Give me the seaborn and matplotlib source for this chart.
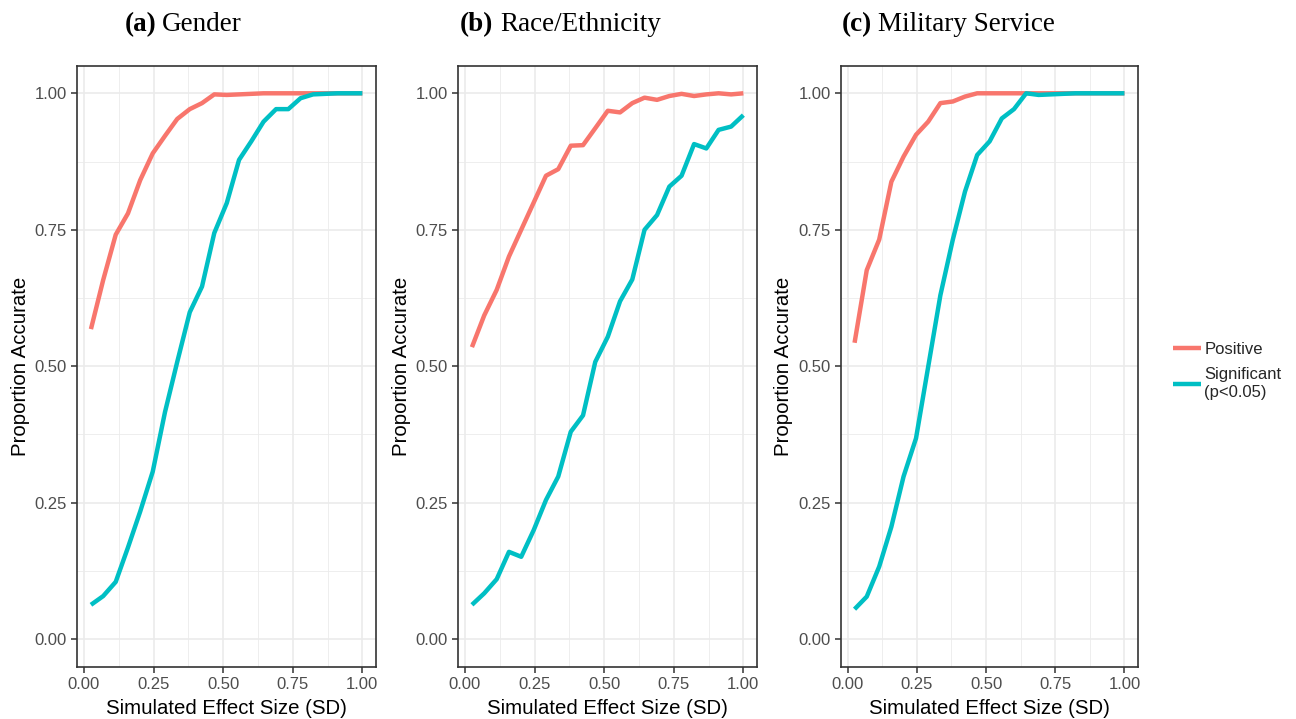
import seaborn as sns
import matplotlib.pyplot as plt
import pandas as pd
from matplotlib.ticker import MultipleLocator

# effect sizes (SD) at which the simulations were run
effect_size = [0.025, 0.069, 0.114, 0.158, 0.202, 0.247, 0.291, 0.335, 0.380, 0.424, 0.468, 0.513,
               0.557, 0.601, 0.645, 0.690, 0.734, 0.778, 0.823, 0.867, 0.911, 0.956, 1.000]

gender_pos = [0.568, 0.658, 0.741, 0.780, 0.841, 0.890, 0.922, 0.953, 0.971, 0.982, 0.998, 0.997,
              0.998, 0.999, 1.0, 1.0, 1.0, 1.0, 1.0, 1.0, 1.0, 1.0, 1.0]
gender_sig = [0.063, 0.079, 0.105, 0.168, 0.234, 0.307, 0.416, 0.508, 0.599, 0.646, 0.744, 0.799,
              0.878, 0.912, 0.948, 0.971, 0.971, 0.991, 0.998, 0.999, 1.0, 1.0, 1.0]

race_pos = [0.535, 0.593, 0.640, 0.701, 0.750, 0.800, 0.849, 0.861, 0.904, 0.905, 0.936, 0.968,
            0.965, 0.982, 0.992, 0.988, 0.995, 0.999, 0.995, 0.998, 1.0, 0.998, 1.0]
race_sig = [0.063, 0.084, 0.110, 0.160, 0.151, 0.200, 0.255, 0.298, 0.380, 0.410, 0.508, 0.554,
            0.619, 0.659, 0.750, 0.777, 0.829, 0.849, 0.907, 0.899, 0.933, 0.939, 0.960]

military_pos = [0.543, 0.676, 0.732, 0.838, 0.884, 0.924, 0.948, 0.982, 0.985, 0.994, 1.0, 1.0,
                1.0, 1.0, 1.0, 1.0, 1.0, 1.0, 1.0, 1.0, 1.0, 1.0, 1.0]
military_sig = [0.055, 0.078, 0.133, 0.206, 0.298, 0.368, 0.499, 0.630, 0.732, 0.820, 0.887, 0.912,
                0.954, 0.971, 1.0, 0.997, 0.998, 0.999, 1.0, 1.0, 1.0, 1.0, 1.0]

series_names = ["Positive", "Significant\n(p<0.05)"]
panel_tags = ["(a)", "(b)", "(c)"]
panel_names = ["Gender", "Race/Ethnicity", "Military Service"]
panel_data = [(gender_pos, gender_sig), (race_pos, race_sig), (military_pos, military_sig)]

sns.set_theme(style="white")
plt.rcParams["font.family"] = ["Liberation Sans", "DejaVu Sans"]
palette = ["#F8766D", "#00BFC4"]

fig = plt.figure(figsize=(12.96, 7.19), dpi=100)

# axes positions in pixels: left, width (top 66, bottom 666.5)
W, H = 1296, 719
lefts = [77.3, 458.3, 841.0]
widths = [298.7, 298.7, 297.0]
tag_x = [125, 460, 842]
name_x = [162, 500, 878]

axes = []
for i in range(3):
    ax = fig.add_axes([lefts[i] / W, 1 - 666.5 / H, widths[i] / W, (666.5 - 66) / H])
    pos, sig = panel_data[i]
    df = pd.DataFrame({
        "x": effect_size * 2,
        "y": pos + sig,
        "kind": [series_names[0]] * len(pos) + [series_names[1]] * len(sig),
    })
    sns.lineplot(data=df, x="x", y="y", hue="kind", palette=palette, lw=3.2,
                 legend=False, ax=ax, solid_capstyle="butt")
    ax.set_xlim(-0.024, 1.049)
    ax.set_ylim(-0.05, 1.05)
    ax.xaxis.set_major_locator(MultipleLocator(0.25))
    ax.xaxis.set_minor_locator(MultipleLocator(0.125))
    ax.yaxis.set_major_locator(MultipleLocator(0.25))
    ax.yaxis.set_minor_locator(MultipleLocator(0.125))
    ax.xaxis.set_major_formatter(lambda v, p: f"{v:.2f}")
    ax.yaxis.set_major_formatter(lambda v, p: f"{v:.2f}")
    ax.grid(which="major", color="#EBEBEB", lw=1.2)
    ax.grid(which="minor", color="#EBEBEB", lw=0.6)
    ax.set_axisbelow(True)
    for s in ax.spines.values():
        s.set_color("#333333")
        s.set_linewidth(1.2)
    ax.tick_params(which="major", length=4, width=1.1, color="#333333",
                   labelsize=12, labelcolor="#4D4D4D", pad=3.5, bottom=True, left=True)
    ax.tick_params(which="minor", length=0)
    ax.set_xlabel("Simulated Effect Size (SD)", fontsize=14.7, color="black")
    ax.set_ylabel("Proportion Accurate", fontsize=14.7, color="black")
    ax.xaxis.set_label_coords(0.5, -0.054)
    ax.yaxis.set_label_coords(-0.160, 0.5)
    axes.append(ax)

    # subfigure caption: bold tag + plain name
    fig.text(tag_x[i] / W, 1 - 31 / H, panel_tags[i], fontsize=19.5, fontweight="bold",
             family=["Liberation Serif"], ha="left", va="baseline", color="black")
    fig.text(name_x[i] / W, 1 - 31 / H, panel_names[i], fontsize=19.5,
             family=["Liberation Serif"], ha="left", va="baseline", color="black")

handles = axes[0].get_lines()[:2]
fig.legend(handles, series_names, loc="center left", frameon=False,
           bbox_to_anchor=(1166 / W, 1 - 371 / H), fontsize=12,
           handlelength=1.7, handletextpad=0.2, labelspacing=0.6, borderaxespad=0)

fig.savefig("out.png", dpi=100)
